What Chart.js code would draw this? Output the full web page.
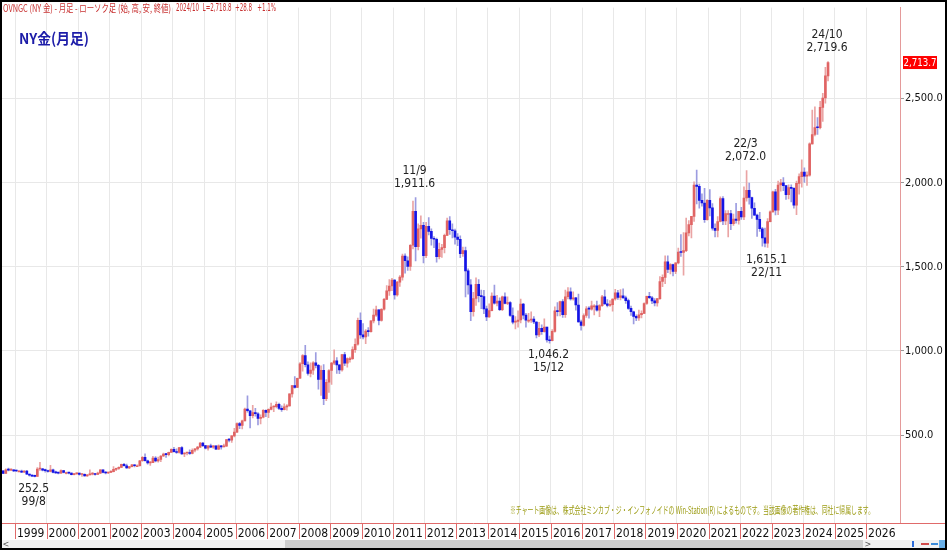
<!DOCTYPE html>
<html>
<head>
<meta charset="utf-8">
<script src="https://cdn.jsdelivr.net/npm/chart.js@4.4.1/dist/chart.umd.min.js"></script>
<style>
html, body { margin: 0; padding: 0; background: #fff; }
canvas { display: block; }
</style>
</head>
<body>
<canvas id="chartOro" width="947" height="550"></canvas>
<script>
// NY金 月足 (1998/08 - 2024/10) 始値・高値・安値・終値
const primerMes = { anio: 1998, mes: 8 };

const aperturas = [
  288,273,294,292,294,
  288,287,287,280,287,268,262,256,255,299,300,292,
  289,284,294,279,276,274,289,278,278,274,265,270,
  274,266,267,258,264,268,271,266,274,294,279,275,
  279,283,297,302,308,327,318,305,313,324,318,318,
  348,368,348,335,337,364,347,355,376,388,384,398,
  416,402,397,426,388,394,396,391,410,418,429,453,
  438,423,436,429,436,417,436,430,435,473,470,496,
  518,569,557,585,655,645,616,634,627,600,606,648,
  635,653,667,669,683,659,651,668,674,745,795,784,
  838,924,973,918,866,886,930,914,831,885,717,814,
  884,928,942,917,888,979,927,955,955,1008,1040,1182,
  1096,1083,1118,1115,1179,1213,1245,1182,1248,1307,1357,1386,
  1421,1333,1409,1439,1564,1536,1502,1628,1829,1620,1725,1746,
  1566,1740,1711,1669,1664,1560,1604,1614,1687,1773,1720,1714,
  1676,1663,1578,1597,1476,1393,1234,1312,1396,1328,1323,1250,
  1202,1240,1326,1284,1296,1246,1322,1282,1287,1211,1171,1175,
  1184,1278,1213,1183,1183,1190,1172,1095,1135,1115,1142,1065,
  1061,1116,1238,1234,1293,1215,1322,1351,1309,1316,1273,1173,
  1152,1211,1251,1249,1268,1268,1242,1269,1322,1280,1271,1275,
  1309,1345,1318,1327,1315,1299,1253,1233,1206,1196,1215,1223,
  1282,1325,1316,1298,1285,1311,1413,1437,1529,1485,1514,1472,
  1523,1587,1585,1596,1702,1751,1800,1986,1978,1895,1879,1780,
  1895,1850,1729,1716,1769,1906,1772,1817,1817,1757,1784,1776,
  1829,1797,1909,1954,1912,1848,1807,1782,1726,1672,1641,1768,
  1826,1945,1837,1986,1999,1982,1929,1970,1966,1866,1996,2036,
  2063,2039,2044,2230,2286,2327,2326,2447,2503,2634
];

const altos = [
  290,300,305,300,296,
  293,291,292,290,291,269,264,262,307,339,303,298,
  293,320,299,287,278,294,291,281,279,276,272,276,
  275,270,270,265,294,277,272,280,295,294,284,281,
  290,313,304,311,328,332,328,315,327,325,323,351,
  372,389,352,342,374,373,369,378,393,392,399,418,
  427,419,428,432,396,397,412,418,420,433,457,457,
  440,438,447,438,437,443,439,447,475,479,498,541,
  573,576,589,661,733,646,677,659,634,621,652,650,
  656,690,674,698,691,674,686,682,746,796,848,839,
  931,978,1033,936,930,937,990,921,912,919,830,889,
  933,1007,961,918,980,992,960,964,1025,1072,1195,1227,
  1163,1127,1139,1180,1249,1266,1246,1252,1313,1388,1424,1432,
  1424,1414,1448,1576,1577,1560,1632,1890,1911.6,1755,1803,1764,
  1764,1792,1725,1680,1670,1641,1634,1695,1790,1798,1755,1724,
  1697,1684,1617,1617,1488,1424,1348,1434,1424,1362,1361,1267,
  1280,1345,1392,1331,1315,1326,1345,1322,1293,1256,1205,1239,
  1308,1283,1224,1224,1232,1205,1175,1170,1156,1191,1142,1088,
  1127,1263,1287,1297,1306,1362,1377,1375,1352,1318,1338,1183,
  1220,1264,1264,1296,1275,1296,1275,1331,1362,1306,1299,1310,
  1366,1361,1365,1369,1326,1309,1266,1237,1214,1243,1239,1286,
  1326,1349,1324,1311,1311,1442,1453,1566,1566,1519,1516,1524,
  1611,1691,1704,1789,1775,1800,2005,2075,1992,1933,1966,1900,
  1959,1875,1755,1798,1916,1917,1834,1834,1836,1814,1877,1830,
  1853,1975,2072.0,1998,1915,1880,1814,1824,1735,1730,1786,1833,
  1950,1960,2009,2020,2030,1983,1987,1987,1970,2009,2052,2135,
  2088,2065,2236,2431,2450,2387,2483,2531,2685,2719.6
];

const bajos = [
  271,272,287,289,283,
  283,283,277,278,266,256,254,252.5,254,290,288,280,
  280,282,276,272,270,272,275,270,270,264,263,268,
  262,255,256,255,263,263,262,265,271,275,270,271,
  277,282,289,297,306,316,302,301,311,311,314,316,
  344,345,327,320,337,341,340,343,372,367,376,398,
  399,392,393,386,372,382,386,389,401,411,425,432,
  418,411,425,421,414,414,417,430,433,459,456,489,
  515,539,537,584,636,543,603,613,560,566,603,609,
  604,650,640,662,652,641,650,649,672,725,779,782,
  836,880,905,857,846,861,900,773,736,681,705,754,
  801,918,866,865,880,912,904,934,950,991,1034,1075,
  1072,1044,1088,1112,1166,1205,1155,1177,1242,1306,1330,1358,
  1308,1325,1383,1420,1462,1478,1478,1606,1535,1600,1670,1523,
  1555,1690,1628,1614,1527,1547,1556,1583,1685,1692,1672,1635,
  1626,1554,1562,1321,1338,1180,1207,1270,1292,1251,1221,1180,
  1200,1238,1278,1268,1240,1240,1280,1275,1205,1160,1131,1142,
  1167,1191,1142,1170,1169,1162,1077,1085,1099,1111,1053,1046.2,
  1060,1111,1209,1208,1200,1200,1310,1302,1302,1242,1171,1123,
  1147,1200,1195,1242,1214,1237,1204,1265,1278,1262,1264,1236,
  1302,1307,1303,1313,1282,1247,1211,1160,1180,1182,1196,1221,
  1276,1311,1281,1267,1266,1306,1382,1400,1465,1458,1446,1459,
  1517,1562,1451,1590,1683,1671,1769,1874,1849,1860,1764,1777,
  1803,1717,1677,1678,1766,1750,1751,1678,1721,1746,1759,1753,
  1781,1780,1890,1872,1787,1805,1681,1711,1622,1618,1615.1,1766,
  1824,1809,1810,1950,1952,1900,1903,1885,1848,1810,1931,1973,
  2002,1984,2039,2228,2277,2286,2319,2364,2472,2604
];

const cierres = [
  273,294,292,294,288,
  287,287,280,287,268,262,256,255,299,300,292,289,
  284,294,279,276,274,289,278,278,274,265,270,274,
  266,267,258,264,268,271,266,274,294,279,275,279,
  283,297,302,308,327,318,305,313,324,318,318,348,
  368,348,335,337,364,347,355,376,388,384,398,416,
  402,397,426,388,394,396,391,410,418,429,453,438,
  423,436,429,436,417,436,430,435,473,470,496,518,
  569,557,585,655,645,616,634,627,600,606,648,635,
  653,667,669,683,659,651,668,674,745,795,784,838,
  924,973,918,866,886,930,914,831,885,717,814,884,
  928,942,917,888,979,927,955,955,1008,1040,1182,1096,
  1083,1118,1115,1179,1213,1245,1182,1248,1307,1357,1386,1421,
  1333,1409,1439,1564,1536,1502,1628,1829,1620,1725,1746,1566,
  1740,1711,1669,1664,1560,1604,1614,1687,1773,1720,1714,1676,
  1663,1578,1597,1476,1393,1234,1312,1396,1328,1323,1250,1202,
  1240,1326,1284,1296,1246,1322,1282,1287,1211,1171,1175,1184,
  1278,1213,1183,1183,1190,1172,1095,1135,1115,1142,1065,1061,
  1116,1238,1234,1293,1215,1322,1351,1309,1316,1273,1173,1152,
  1211,1251,1249,1268,1268,1242,1269,1322,1280,1271,1275,1309,
  1345,1318,1327,1315,1299,1253,1233,1206,1196,1215,1223,1282,
  1325,1316,1298,1285,1311,1413,1437,1529,1485,1514,1472,1523,
  1587,1585,1596,1702,1751,1800,1986,1978,1895,1879,1780,1895,
  1850,1729,1716,1769,1906,1772,1817,1817,1757,1784,1776,1829,
  1797,1909,1954,1912,1848,1807,1782,1726,1672,1641,1768,1826,
  1945,1837,1986,1999,1982,1929,1970,1966,1866,1996,2036,2063,
  2039,2044,2230,2286,2327,2326,2447,2503,2634,2713.7
];

// 目盛り
const anios = ['1999','2000','2001','2002','2003','2004','2005','2006','2007','2008','2009','2010','2011','2012','2013',
  '2014','2015','2016','2017','2018','2019','2020','2021','2022','2023','2024','2025','2026'];
const preciosEje = [500, 1000, 1500, 2000, 2500];

// 高値・安値の注記
const notas = [
  { anio: 1999, mes: 8, tipo: 'bajo' },
  { anio: 2011, mes: 9, tipo: 'alto' },
  { anio: 2015, mes: 12, tipo: 'bajo' },
  { anio: 2022, mes: 3, tipo: 'alto' },
  { anio: 2022, mes: 11, tipo: 'bajo' },
  { anio: 2024, mes: 10, tipo: 'alto' }
];

const fuenteNum = "'Liberation Sans Narrow', 'DejaVu Sans Condensed', sans-serif";
const fuenteJp = "'Noto Sans CJK JP', sans-serif";

// índice de mes desde 1999/01
function mesX(anio, mes) { return (anio - 1999) * 12 + (mes - 1) + 0.5; }
function idxDato(anio, mes) { return (anio - primerMes.anio) * 12 + (mes - primerMes.mes); }
const x0 = mesX(primerMes.anio, primerMes.mes);

const fmt = v => v.toLocaleString('en-US', { minimumFractionDigits: 1, maximumFractionDigits: 1 });

const sube = cierres.map((c, i) => c >= aperturas[i]);
const mechas = cierres.map((c, i) => ({ x: x0 + i, y: [bajos[i], altos[i]] }));
const cuerpos = cierres.map((c, i) => ({ x: x0 + i, y: [aperturas[i], c] }));

const adornos = {
  id: 'adornos',
  beforeDraw(chart) {
    const ctx = chart.ctx;
    ctx.save();
    ctx.fillStyle = '#fff';
    ctx.fillRect(0, 0, chart.width, chart.height);
    ctx.restore();
  },
  afterDatasetsDraw(chart) {
    const ctx = chart.ctx;
    const sx = chart.scales.x, sy = chart.scales.y;
    ctx.save();
    ctx.font = '12px ' + fuenteNum;
    ctx.fillStyle = '#222';
    ctx.textAlign = 'center';
    ctx.textBaseline = 'middle';
    notas.forEach(n => {
      const i = idxDato(n.anio, n.mes);
      const px = sx.getPixelForValue(mesX(n.anio, n.mes)) - 1;
      const fecha = String(n.anio % 100).padStart(2, '0') + '/' + n.mes;
      if (n.tipo === 'alto') {
        const py = sy.getPixelForValue(altos[i]);
        ctx.fillText(fecha, px, py - 27);
        ctx.fillText(fmt(altos[i]), px, py - 14);
      } else {
        const py = sy.getPixelForValue(bajos[i]);
        ctx.fillText(fmt(bajos[i]), px, py + 12);
        ctx.fillText(fecha, px, py + 25);
      }
    });
    ctx.restore();
  },
  afterDraw(chart) {
    const ctx = chart.ctx;
    const sx = chart.scales.x, sy = chart.scales.y;
    const area = chart.chartArea;
    ctx.save();

    // cabecera
    ctx.textBaseline = 'middle';
    ctx.textAlign = 'left';
    ctx.fillStyle = '#c83232';
    ctx.font = '10px ' + fuenteJp;
    ctx.fillText('OVNGC (NY 金) - 月足 - ローソク足 (始, 高, 安, 終値)', 3, 8, 168);
    ctx.font = '10px ' + fuenteNum;
    ctx.fillText('2024/10  L=2,718.8  +28.8   +1.1%', 176, 8, 100);

    ctx.fillStyle = '#1c1ca8';
    ctx.font = 'bold 15px ' + fuenteJp;
    ctx.fillText('NY金(月足)', 19, 38, 70);

    ctx.fillStyle = '#9c9c14';
    ctx.font = '10px ' + fuenteJp;
    ctx.fillText('※チャート画像は、株式会社ミンカブ・ジ・インフォノイドの Win-Station(R) によるものです。当該画像の著作権は、同社に帰属します。', 510, 510, 364);

    // eje inferior rojo
    ctx.strokeStyle = '#e06a6a';
    ctx.lineWidth = 1;
    ctx.beginPath();
    ctx.moveTo(0, Math.round(area.bottom) + 0.5);
    ctx.lineTo(chart.width, Math.round(area.bottom) + 0.5);
    sx.ticks.forEach(t => {
      const px = Math.round(sx.getPixelForValue(t.value)) + 0.5;
      ctx.moveTo(px, area.bottom);
      ctx.lineTo(px, area.bottom + 16);
    });
    ctx.stroke();

    // precio actual
    const ult = cierres[cierres.length - 1];
    const py = sy.getPixelForValue(ult);
    ctx.fillStyle = '#ff0000';
    ctx.fillRect(903, py - 6.5, 34, 13);
    ctx.fillStyle = '#fff';
    ctx.font = '11px ' + fuenteNum;
    ctx.textAlign = 'center';
    ctx.fillText(fmt(ult), 920, py + 0.5, 33);

    // barra de desplazamiento
    const yb = area.bottom + 17;
    ctx.fillStyle = '#f0f0f0';
    ctx.fillRect(1, yb, chart.width - 2, 9);
    ctx.fillStyle = '#cdcdcd';
    ctx.fillRect(285, yb, 578, 9);
    ctx.fillStyle = '#555';
    ctx.font = '9px ' + fuenteNum;
    ctx.fillText('<', 6, yb + 4.5);
    ctx.fillText('>', 868, yb + 4.5);
    ctx.fillStyle = '#2a6ad8';
    ctx.fillRect(912, yb + 1, 2, 6);
    ctx.fillStyle = '#d04a4a';
    ctx.fillRect(921, yb + 3, 8, 2);
    ctx.fillStyle = '#3a8ad8';
    ctx.fillRect(931, yb + 3, 7, 2);
    ctx.fillStyle = '#6ab0e8';
    ctx.fillRect(939, yb, 6, 8);

    // marco
    ctx.strokeStyle = '#000';
    ctx.lineWidth = 2;
    ctx.strokeRect(1, 1, chart.width - 2, chart.height - 2);
    ctx.restore();
  }
};

new Chart(document.getElementById('chartOro').getContext('2d'), {
  type: 'bar',
  data: {
    datasets: [
      {
        label: 'body',
        data: cuerpos,
        order: 0,
        grouped: false,
        barThickness: 2,
        minBarLength: 1,
        borderWidth: 0,
        backgroundColor: sube.map(s => s ? '#e06464' : '#1414e6')
      },
      {
        label: 'wick',
        data: mechas,
        order: 1,
        grouped: false,
        barThickness: 1,
        borderWidth: 0,
        backgroundColor: sube.map(s => s ? '#eaa4a4' : '#9c9ce0')
      }
    ]
  },
  plugins: [adornos],
  options: {
    responsive: false,
    animation: false,
    events: [],
    layout: { padding: { left: 2, top: 1, right: 0, bottom: 0 } },
    plugins: { legend: { display: false }, tooltip: { enabled: false } },
    scales: {
      x: {
        type: 'linear',
        offset: false,
        min: -4.95,
        max: 336.9,
        afterBuildTicks: s => { s.ticks = anios.map((a, i) => ({ value: i * 12 })); },
        afterFit: s => { s.height = 27; },
        grid: { color: '#e8e8e8', drawTicks: false, offset: false },
        border: { display: false },
        ticks: {
          align: 'start',
          labelOffset: 2,
          padding: 4,
          maxRotation: 0,
          autoSkip: false,
          color: '#111',
          font: { family: fuenteNum, size: 12 },
          callback: v => anios[Math.round(v / 12)]
        }
      },
      y: {
        position: 'right',
        min: -22,
        max: 3040,
        afterBuildTicks: s => { s.ticks = preciosEje.map(v => ({ value: v })); },
        afterFit: s => { s.width = 47; },
        grid: { color: '#e8e8e8', tickLength: 4, tickColor: '#999' },
        border: { color: '#e49a9a' },
        ticks: {
          padding: 1,
          color: '#111',
          font: { family: fuenteNum, size: 11 },
          callback: v => fmt(v)
        }
      }
    }
  }
});
</script>
</body>
</html>
